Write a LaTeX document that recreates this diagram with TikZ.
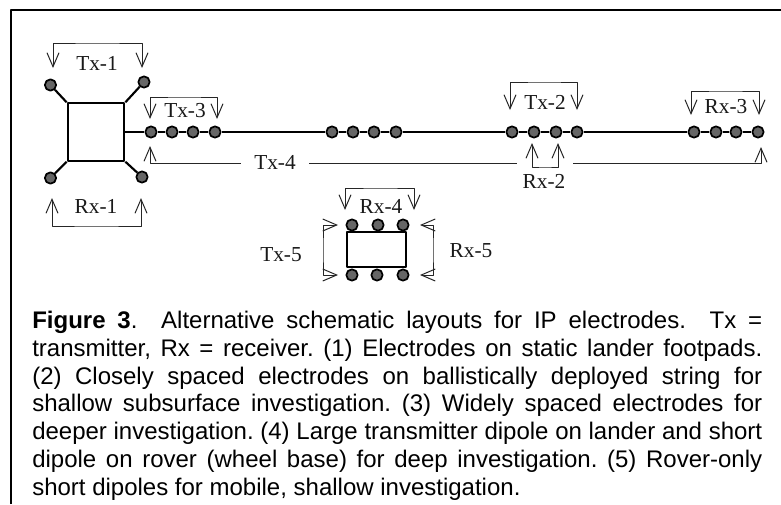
\documentclass[tikz,border=0pt]{standalone}
\usepackage{fontspec}
\setmainfont{Liberation Serif}
\newfontfamily\captionfont{Liberation Sans}
\usetikzlibrary{arrows.meta}
\begin{document}
\begin{tikzpicture}[x=0.75pt,y=-0.75pt,line join=bevel,>={Straight Barb[length=10.5pt,width=9pt,line width=0.75pt]}]
  \tikzstyle{electrode}=[circle,draw=black,line width=1.3pt,fill=black!60,minimum size=8.5pt,inner sep=0pt]
  \tikzstyle{wire}=[line width=1.6pt]
  \tikzstyle{lander}=[draw,line width=1.6pt,inner sep=0pt]
  \tikzstyle{dipole}=[line width=0.75pt,black!85]
  \tikzstyle{label}=[font=\fontsize{16}{16}\selectfont,inner sep=0pt,text=black!90]
  \useasboundingbox (0,0) rectangle (781,504);
  \draw[line width=1.5pt] (10.5,504) -- (10.5,9.5) -- (781,9.5);

  % lander with footpads
  \node[lander,minimum width=42.5pt,minimum height=43pt] (L) at (96,132) {};
  \node[electrode] (P_1) at (50.5,85)  {};
  \node[electrode] (P_2) at (144,82)   {};
  \node[electrode] (P_3) at (50.5,178) {};
  \node[electrode] (P_4) at (142,177)  {};
  \draw[wire] (L.north west) -- (P_1);
  \draw[wire] (L.north east) -- (P_2);
  \draw[wire] (L.south west) -- (P_3);
  \draw[wire] (L.south east) -- (P_4);

  % string
  \node[electrode] (S_1) at (151,132)  {};
  \node[electrode] (S_2) at (172,132)  {};
  \node[electrode] (S_3) at (193,132)  {};
  \node[electrode] (S_4) at (215,132)  {};
  \node[electrode] (S_5) at (332,132)  {};
  \node[electrode] (S_6) at (353,132)  {};
  \node[electrode] (S_7) at (374,132)  {};
  \node[electrode] (S_8) at (396,132)  {};
  \node[electrode] (S_9) at (512,132)  {};
  \node[electrode] (S_10) at (534,132) {};
  \node[electrode] (S_11) at (556,132) {};
  \node[electrode] (S_12) at (577,132) {};
  \node[electrode] (S_13) at (694,132) {};
  \node[electrode] (S_14) at (716,132) {};
  \node[electrode] (S_15) at (736,132) {};
  \node[electrode] (S_16) at (758,132) {};
  \draw[wire] (L.east) -- (S_1) -- (S_2) -- (S_3) -- (S_4) -- (S_5) -- (S_6) -- (S_7) -- (S_8)
    -- (S_9) -- (S_10) -- (S_11) -- (S_12) -- (S_13) -- (S_14) -- (S_15) -- (S_16);

  % rover
  \node[lander,minimum width=44.25pt,minimum height=26.25pt] (R) at (376.5,249.5) {};
  \node[electrode] (W_1) at (352,225) {};
  \node[electrode] (W_2) at (378,225) {};
  \node[electrode] (W_3) at (403,225) {};
  \node[electrode] (W_4) at (352,275) {};
  \node[electrode] (W_5) at (377,275) {};
  \node[electrode] (W_6) at (403,275) {};

  % labels
  \node[label] (TxA) at (97,63)   {Tx-1};
  \node[label] (RxA) at (96,206)  {Rx-1};
  \node[label] (TxC) at (185,111) {Tx-3};
  \node[label] (TxD) at (275,162) {Tx-4};
  \node[label] (TxB) at (545,102) {Tx-2};
  \node[label] (RxB) at (544,181) {Rx-2};
  \node[label] (RxC) at (726,107) {Rx-3};
  \node[label] (RxD) at (381,206) {Rx-4};
  \node[label] (TxE) at (281,255) {Tx-5};
  \node[label] (RxE) at (471,251) {Rx-5};

  % dipole brackets
  \coordinate (TxA_1) at (53,68);   \coordinate (TxA_2) at (142,68);  \coordinate (TxA_t) at (97,43);
  \coordinate (RxA_1) at (52,198);  \coordinate (RxA_2) at (141,198); \coordinate (RxA_b) at (96,226);
  \coordinate (TxC_1) at (150,119); \coordinate (TxC_2) at (217,119); \coordinate (TxC_t) at (185,97);
  \coordinate (TxB_1) at (510,110); \coordinate (TxB_2) at (577,110); \coordinate (TxB_t) at (545,82);
  \coordinate (RxB_1) at (532,143); \coordinate (RxB_2) at (558,143); \coordinate (RxB_b) at (545,167);
  \coordinate (RxC_1) at (691,115); \coordinate (RxC_2) at (759,115); \coordinate (RxC_t) at (726,91);
  \coordinate (RxD_1) at (345,210); \coordinate (RxD_2) at (414,210); \coordinate (RxD_t) at (381,188);
  \coordinate (TxE_1) at (338,225); \coordinate (TxE_2) at (338,275); \coordinate (TxE_l) at (323,250);
  \coordinate (RxE_1) at (420,225); \coordinate (RxE_2) at (420,275); \coordinate (RxE_r) at (433,250);
  \coordinate (TxD_1) at (150,146); \coordinate (TxD_2) at (761,147);
  \coordinate (TxD_a) at (241,163); \coordinate (TxD_b) at (309,163);
  \coordinate (TxD_c) at (517,163); \coordinate (TxD_d) at (573,163);
  \draw[dipole,<->] (TxA_1) |- (TxA_t) -| (TxA_2);
  \draw[dipole,<->] (RxA_1) |- (RxA_b) -| (RxA_2);
  \draw[dipole,<->] (TxC_1) |- (TxC_t) -| (TxC_2);
  \draw[dipole,<->] (TxB_1) |- (TxB_t) -| (TxB_2);
  \draw[dipole,<->] (RxB_1) |- (RxB_b) -| (RxB_2);
  \draw[dipole,<->] (RxC_1) |- (RxC_t) -| (RxC_2);
  \draw[dipole,<->] (RxD_1) |- (RxD_t) -| (RxD_2);
  \draw[dipole,<->] (TxE_1) -| (TxE_l) |- (TxE_2);
  \draw[dipole,<->] (RxE_1) -| (RxE_r) |- (RxE_2);
  \draw[dipole,<-] (TxD_1) |- (TxD_a);
  \draw[dipole] (TxD_b) -- (TxD_c);
  \draw[dipole,->] (TxD_d) -| (TxD_2);

  % caption
  \node[anchor=north west,inner sep=0pt,text width=547.5pt,align=justify,
        font=\captionfont\fontsize{18}{20.8}\selectfont] (Cap) at (32,311)
    {\frenchspacing\textbf{Figure 3}.\ \ Alternative schematic layouts for IP electrodes.\ \ Tx =\linebreak
     transmitter, Rx = receiver. (1) Electrodes on static lander footpads.\linebreak
     (2) Closely spaced electrodes on ballistically deployed string for\linebreak
     shallow subsurface investigation. (3) Widely spaced electrodes for\linebreak
     deeper investigation. (4) Large transmitter dipole on lander and short\linebreak
     dipole on rover (wheel base) for deep investigation. (5) Rover-only\linebreak
     short dipoles for mobile, shallow investigation.};
\end{tikzpicture}
\end{document}
